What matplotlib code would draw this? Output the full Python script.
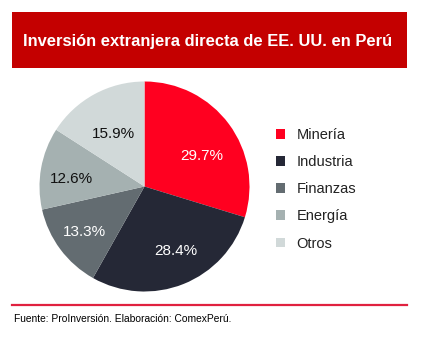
import matplotlib
matplotlib.use("Agg")
import matplotlib.pyplot as plt
from matplotlib.patches import Rectangle
from matplotlib.lines import Line2D

plt.rcParams['font.family'] = ['Liberation Sans', 'DejaVu Sans']

categories = ["Minería", "Industria", "Finanzas", "Energía", "Otros"]
values = [29.7, 28.4, 13.3, 12.6, 15.9]
colors = ["#FF0020", "#252836", "#636C71", "#A5B1B1", "#D1D9D9"]
label_colors = ["white", "white", "white", "#111111", "#111111"]
title = "Inversión extranjera directa de EE. UU. en Perú"
source = "Fuente: ProInversión. Elaboración: ComexPerú."

W, H = 424, 347
fig = plt.figure(figsize=(W / 100, H / 100), dpi=100)
fig.patch.set_facecolor("white")

def fx(px):
    return px / W

def fy(py):
    return 1 - py / H

# Title banner
fig.patches.append(Rectangle((fx(12), fy(68)), fx(407) - fx(12), fy(12.5) - fy(68),
                             transform=fig.transFigure, facecolor="#C40000",
                             edgecolor="none", zorder=0))
fig.text(fx(207.5), fy(41.5), title, ha="center", va="center", color="white",
         fontsize=11.85, fontweight="bold")

# Pie
cx, cy, r = 144.5, 186.5, 105
ax = fig.add_axes([fx(cx - r), fy(cy + r), 2 * r / W, 2 * r / H])
wedges, texts, autotexts = ax.pie(values, colors=colors, startangle=90, counterclock=False,
                                  autopct="%.1f%%", pctdistance=0.68, radius=1,
                                  wedgeprops=dict(linewidth=0))
# small label nudges (axes data units) to mimic the original placement
nudges = [(0.0, -0.11), (0.05, 0.02), (-0.03, -0.03), (-0.03, -0.05), (0.03, -0.1)]
for t, c, (dx, dy) in zip(autotexts, label_colors, nudges):
    t.set_color(c)
    t.set_fontsize(11)
    x, y = t.get_position()
    t.set_position((x + dx, y + dy))
ax.set_xlim(-1, 1)
ax.set_ylim(-1, 1)
ax.set_aspect("equal")
ax.axis("off")

# Legend
handles = [Rectangle((0, 0), 1, 1, facecolor=c, edgecolor="none") for c in colors]
leg = fig.legend(handles, categories, loc="upper left",
                 bbox_to_anchor=(fx(276), fy(128)), frameon=False,
                 handlelength=0.65, handleheight=0.65, handletextpad=0.75,
                 labelspacing=0.9, fontsize=10.5, labelcolor="#222222",
                 borderaxespad=0, borderpad=0)

# Bottom rule and source
fig.lines.append(Line2D([fx(12), fx(407)], [fy(305), fy(305)], transform=fig.transFigure,
                        color="#E0213F", linewidth=1.6))
fig.text(fx(14), fy(319.5), source, ha="left", va="center", color="#000000",
         fontsize=7.4)

fig.savefig("out.png", dpi=100, facecolor="white")
